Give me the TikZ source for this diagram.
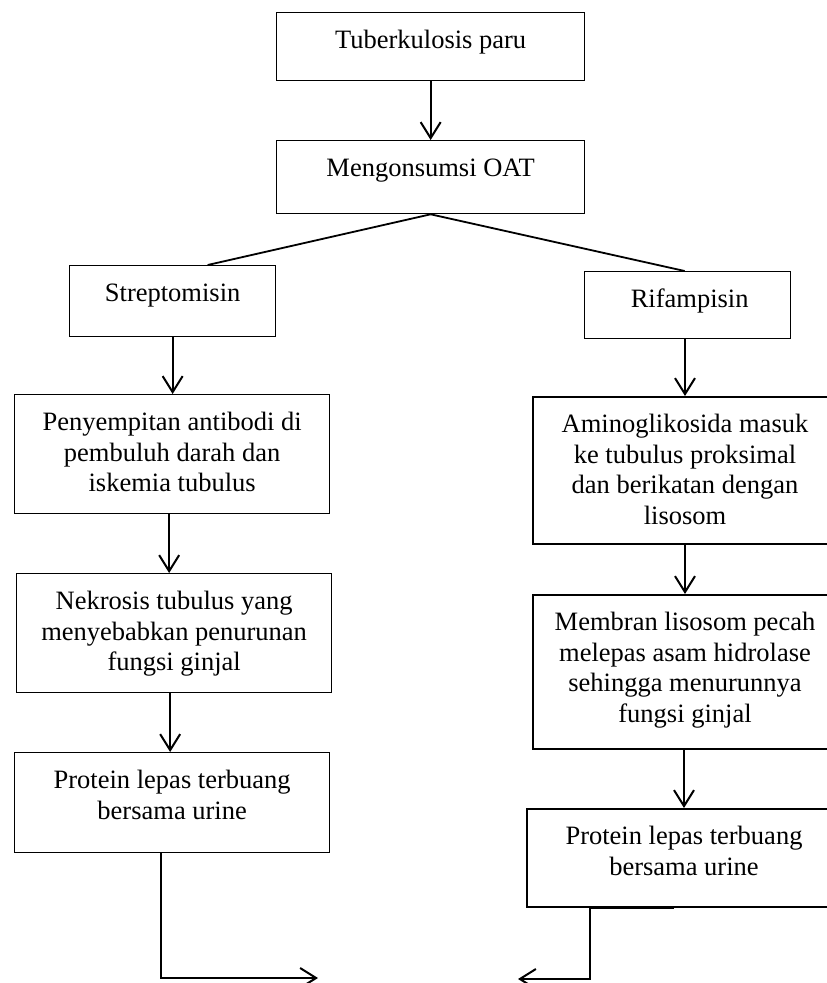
\documentclass[tikz,border=0pt]{standalone}
\usepackage{fontspec}
\setmainfont{Liberation Serif}
\usetikzlibrary{arrows.meta,calc}
\begin{document}
\begin{tikzpicture}[x=1pt,y=-1pt,
  box/.style={draw, line width=1.3pt, rectangle, inner sep=0pt, anchor=north west},
  thickbox/.style={box, line width=2pt},
  txt/.style={anchor=north, inner sep=0pt, align=center, yshift=-15pt,
    font=\fontsize{26.5}{30.5}\selectfont},
  arr/.style={line width=2pt, -{Straight Barb[length=16pt,width=20pt,line width=2pt]}},
  lnk/.style={line width=1.8pt}]
\useasboundingbox (0,0) rectangle (827,983);
\clip (0,0) rectangle (827,983);
% boxes
\node[box, minimum width=308pt, minimum height=68pt] (b1) at (276,12) {};
\node[box, minimum width=308pt, minimum height=73pt] (b2) at (276,140) {};
\node[box, minimum width=206pt, minimum height=71pt] (b3) at (69,265) {};
\node[box, minimum width=206pt, minimum height=67pt] (b4) at (584,271) {};
\node[box, minimum width=315pt, minimum height=119pt] (b5) at (14,394) {};
\node[thickbox, minimum width=304pt, minimum height=147pt] (b6) at (532,396) {};
\node[box, minimum width=315pt, minimum height=119pt] (b7) at (16,573) {};
\node[thickbox, minimum width=304pt, minimum height=154pt] (b8) at (532,594) {};
\node[box, minimum width=315pt, minimum height=100pt] (b9) at (14,752) {};
\node[thickbox, minimum width=314pt, minimum height=98pt] (b10) at (526,808) {};
% texts
\node[txt] (t1) at (b1.north) {\strut Tuberkulosis paru};
\node[txt] (t2) at (b2.north) {\strut Mengonsumsi OAT};
\node[txt] (t3) at (b3.north) {\strut Streptomisin};
\node[txt] (t4) at ([xshift=2pt]b4.north) {\strut Rifampisin};
\node[txt] (t5) at (b5.north) {\strut Penyempitan antibodi di\\pembuluh darah dan\\iskemia tubulus};
\node[txt] (t6) at (b6.north) {\strut Aminoglikosida masuk\\ke tubulus proksimal\\dan berikatan dengan\\lisosom};
\node[txt] (t7) at (b7.north) {\strut Nekrosis tubulus yang\\menyebabkan penurunan\\fungsi ginjal};
\node[txt] (t8) at (b8.north) {\strut Membran lisosom pecah\\melepas asam hidrolase\\sehingga menurunnya\\fungsi ginjal};
\node[txt] (t9) at (b9.north) {\strut Protein lepas terbuang\\bersama urine};
\node[txt] (t10) at (b10.north) {\strut Protein lepas terbuang\\bersama urine};
% arrows
\draw[arr] (b1.south) -- (b2.north);
\draw[lnk] (b2.south) -- ([xshift=35pt]b3.north);
\draw[lnk] (b2.south) -- ([xshift=-3pt]b4.north);
\draw[arr] (b3.south) -- (b3.south |- b5.north);
\draw[arr] (b4.south -| b6.north) -- (b6.north);
\draw[arr] ([xshift=-3pt]b5.south) -- ([xshift=-3pt]b5.south |- b7.north);
\draw[arr] (b6.south) -- (b6.south |- b8.north);
\draw[arr] ([xshift=-4pt]b7.south) -- ([xshift=-4pt]b7.south |- b9.north);
\draw[arr] ([xshift=-1pt]b8.south) -- ([xshift=-1pt]b8.south |- b10.north);
% bottom connectors
\coordinate (endL) at (318,978);
\coordinate (endR) at (518,979);
\draw[arr] ([xshift=-11.5pt]b9.south) |- (endL);
\draw[arr] ([xshift=-10pt]b10.south) -- ([xshift=-94pt]b10.south) |- (endR);
\end{tikzpicture}
\end{document}
